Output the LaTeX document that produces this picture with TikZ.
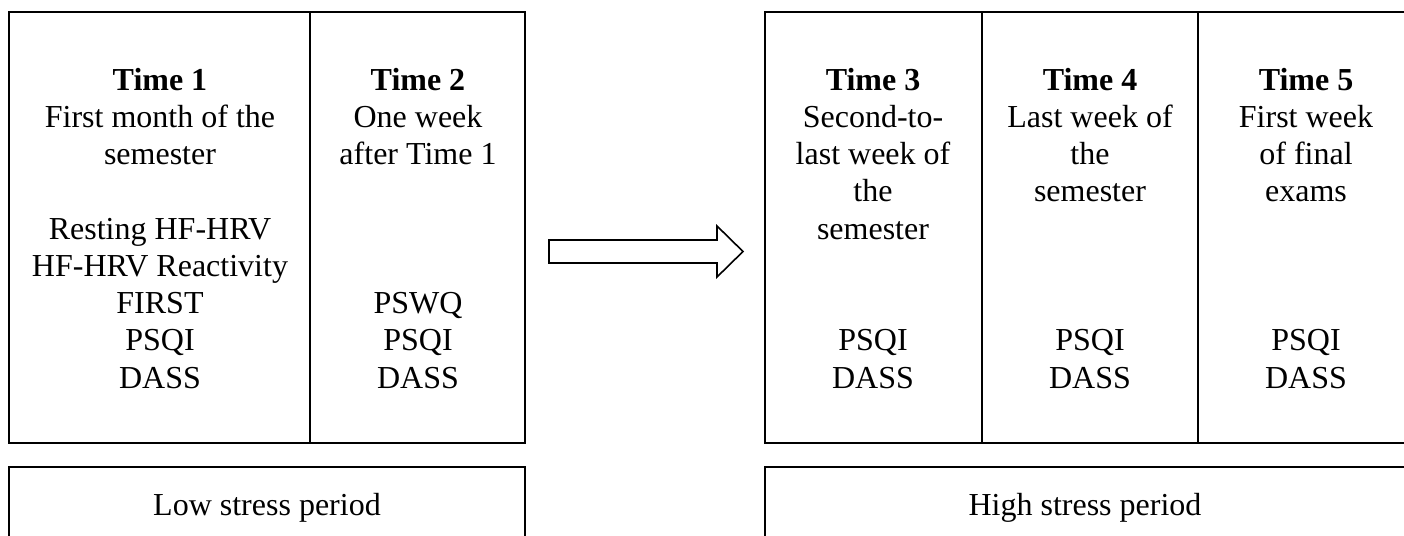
\documentclass[tikz,border=0pt]{standalone}
\usepackage{fontspec}
\setmainfont{Liberation Serif}
\begin{document}
\begin{tikzpicture}[x=1pt,y=-1pt,
  cell/.style={draw=black,line width=1.6pt},
  lbl/.style={anchor=base,inner sep=0pt,font=\fontsize{32}{37}\selectfont},
  hd/.style={lbl,font=\fontsize{32}{37}\selectfont\bfseries}]
\useasboundingbox (0,0) rectangle (1404,535);
% timepoint cells
\coordinate (c1a) at (9,12);   \coordinate (c1b) at (310,443);
\coordinate (c2a) at (310,12); \coordinate (c2b) at (525,443);
\coordinate (c3a) at (765,12); \coordinate (c3b) at (982,443);
\coordinate (c4a) at (982,12); \coordinate (c4b) at (1198,443);
\coordinate (c5a) at (1198,12);\coordinate (c5b) at (1414,443);
\draw[cell] (c1a) rectangle (c1b);
\draw[cell] (c2a) rectangle (c2b);
\draw[cell] (c3a) rectangle (c3b);
\draw[cell] (c4a) rectangle (c4b);
\draw[cell] (c5a) rectangle (c5b);
% period boxes
\coordinate (lowa) at (9,467);   \coordinate (lowb) at (525,560);
\coordinate (higha) at (765,467);\coordinate (highb) at (1420,560);
\draw[cell] (lowa) rectangle (lowb);
\draw[cell] (higha) rectangle (highb);
\node[lbl] (low) at (267,515) {Low stress period};
\node[lbl] (high) at (1085,515) {High stress period};
% block arrow
\coordinate (ar1) at (549,240);
\draw[line width=1.6pt,line join=miter] (ar1) -- (717,240) -- (717,226) -- (743,251.5) -- (717,277) -- (717,263) -- (549,263) -- cycle;
% column 1
\node[hd]  (t1)  at (160,90) {Time 1};
\node[lbl] (t1a) at (160,127.25) {First month of the};
\node[lbl] (t1b) at (160,164.5) {semester};
\node[lbl] (t1c) at (160,239) {Resting HF-HRV};
\node[lbl] (t1d) at (160,276.25) {HF-HRV Reactivity};
\node[lbl] (t1e) at (160,313.5) {FIRST};
\node[lbl] (t1f) at (160,350.75) {PSQI};
\node[lbl] (t1g) at (160,388) {DASS};
% column 2
\node[hd]  (t2)  at (418,90) {Time 2};
\node[lbl] (t2a) at (418,127.25) {One week};
\node[lbl] (t2b) at (418,164.5) {after Time 1};
\node[lbl] (t2e) at (418,313.5) {PSWQ};
\node[lbl] (t2f) at (418,350.75) {PSQI};
\node[lbl] (t2g) at (418,388) {DASS};
% column 3
\node[hd]  (t3)  at (873,90) {Time 3};
\node[lbl] (t3a) at (873,127.25) {Second-to-};
\node[lbl] (t3b) at (873,164.5) {last week of};
\node[lbl] (t3c) at (873,201.75) {the};
\node[lbl] (t3d) at (873,239) {semester};
\node[lbl] (t3f) at (873,350.75) {PSQI};
\node[lbl] (t3g) at (873,388) {DASS};
% column 4
\node[hd]  (t4)  at (1090,90) {Time 4};
\node[lbl] (t4a) at (1090,127.25) {Last week of};
\node[lbl] (t4b) at (1090,164.5) {the};
\node[lbl] (t4c) at (1090,201.75) {semester};
\node[lbl] (t4f) at (1090,350.75) {PSQI};
\node[lbl] (t4g) at (1090,388) {DASS};
% column 5
\node[hd]  (t5)  at (1306,90) {Time 5};
\node[lbl] (t5a) at (1306,127.25) {First week};
\node[lbl] (t5b) at (1306,164.5) {of final};
\node[lbl] (t5c) at (1306,201.75) {exams};
\node[lbl] (t5f) at (1306,350.75) {PSQI};
\node[lbl] (t5g) at (1306,388) {DASS};
\end{tikzpicture}
\end{document}
